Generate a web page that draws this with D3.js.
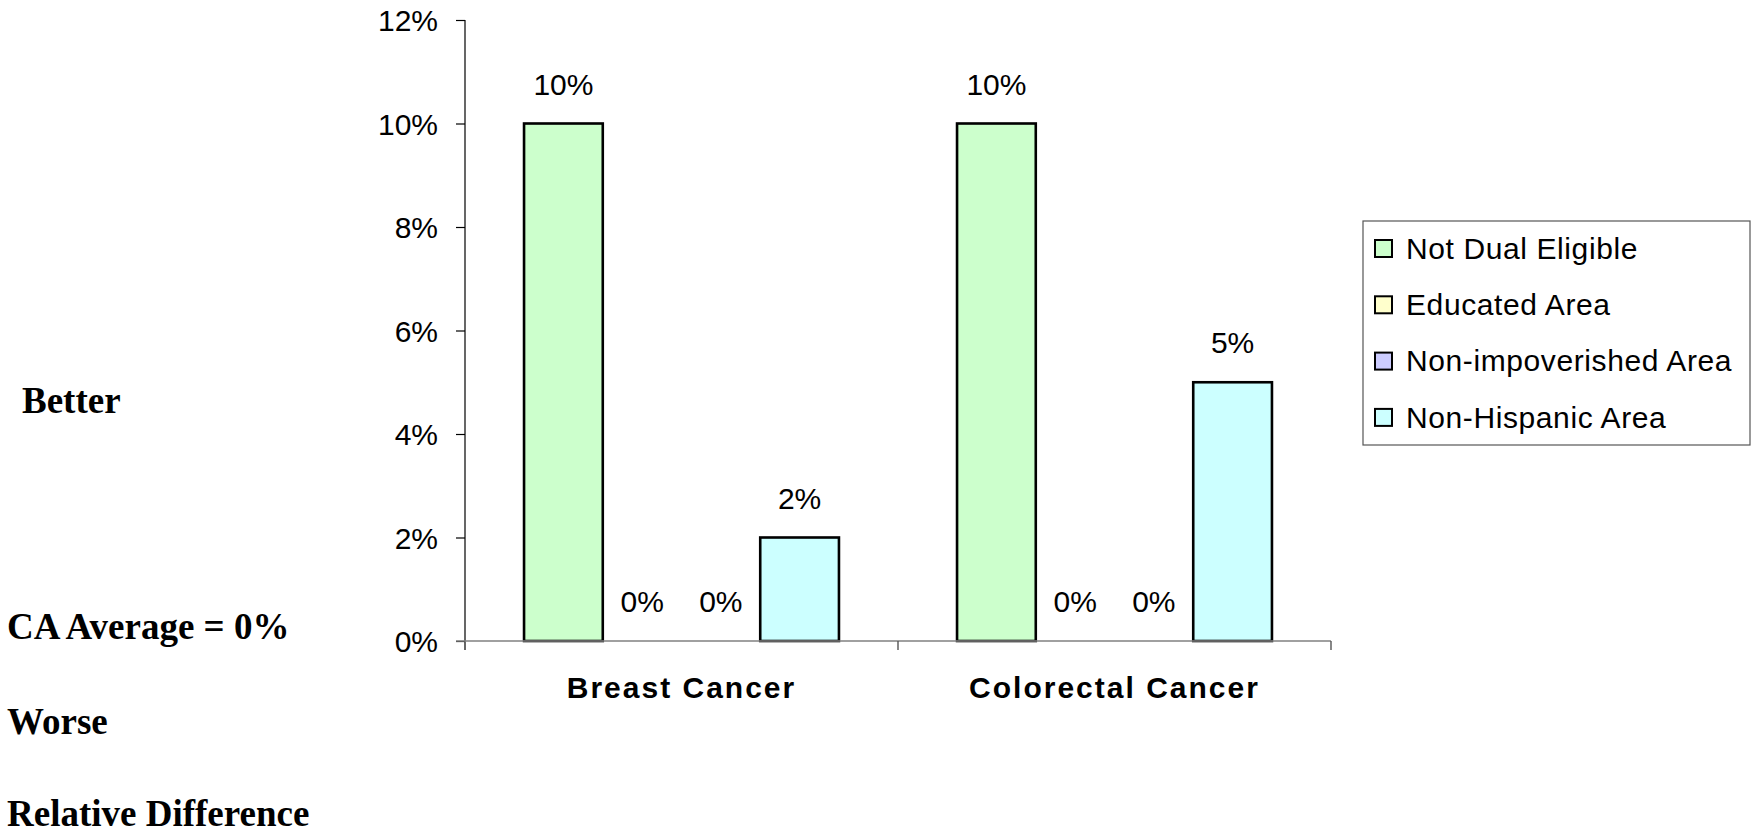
<!DOCTYPE html>
<html>
<head>
<meta charset="utf-8">
<script src="https://cdn.jsdelivr.net/npm/d3@7/dist/d3.min.js"></script>
<style>
  html, body { margin: 0; padding: 0; background: #fff; }
  svg { display: block; }
</style>
</head>
<body>
<svg id="chart" width="1752" height="833"></svg>
<script>
// Relative difference by screening type
const categories = ["Breast Cancer", "Colorectal Cancer"];
const seriesNames = ["Not Dual Eligible", "Educated Area", "Non-impoverished Area", "Non-Hispanic Area"];
const seriesColors = ["#CCFFCC", "#FFFFCC", "#CCCCFF", "#CCFFFF"];
const notDualEligible = [0.10, 0.10];
const educatedArea = [0.00, 0.00];
const nonImpoverishedArea = [0.00, 0.00];
const nonHispanicArea = [0.02, 0.05];
const yTicks = [0, 0.02, 0.04, 0.06, 0.08, 0.10, 0.12];
const sideLabels = ["Better", "CA Average = 0%", "Worse", "Relative Difference"];

const seriesValues = [notDualEligible, educatedArea, nonImpoverishedArea, nonHispanicArea];
const rows = categories.map((c, i) => ({
  category: c,
  bars: seriesNames.map((s, j) => ({ series: s, value: seriesValues[j][i], color: seriesColors[j] }))
}));

const svg = d3.select("#chart");
const plot = { left: 465, right: 1331, top: 20, bottom: 641 };

const x0 = d3.scaleBand().domain(categories).range([plot.left, plot.right]).padding(0);
const x1 = d3.scaleBand().domain(seriesNames).range([0, x0.bandwidth()])
  .paddingInner(0).paddingOuter(0.75);
const y = d3.scaleLinear().domain([0, 0.12]).range([plot.bottom, plot.top]);
const pct = d3.format(".0%");

// Y axis
const yAxis = svg.append("g")
  .attr("transform", `translate(${plot.left},0)`)
  .call(d3.axisLeft(y).tickValues(yTicks).tickFormat(pct).tickSize(9).tickPadding(18));
yAxis.select(".domain").attr("d", `M0,${plot.top}V${plot.bottom + 9}`).attr("stroke", "#000").attr("stroke-width", 1.2);
yAxis.selectAll(".tick line").attr("stroke", "#000").attr("stroke-width", 1.2);
yAxis.selectAll(".tick text")
  .attr("font-family", "'Liberation Sans', Arial, sans-serif")
  .attr("font-size", 30).attr("fill", "#000").attr("dy", "0.36em");

// Bars
const groups = svg.append("g").selectAll("g.group").data(rows).join("g")
  .attr("class", "group")
  .attr("transform", d => `translate(${x0(d.category)},0)`);

groups.selectAll("rect").data(d => d.bars).join("rect")
  .attr("x", d => x1(d.series))
  .attr("y", d => y(d.value))
  .attr("width", x1.bandwidth())
  .attr("height", d => y(0) - y(d.value))
  .attr("fill", d => d.color)
  .attr("stroke", d => d.value > 0 ? "#000" : "none")
  .attr("stroke-width", 2.6);

groups.selectAll("text.value").data(d => d.bars).join("text")
  .attr("class", "value")
  .attr("x", d => x1(d.series) + x1.bandwidth() / 2)
  .attr("y", d => y(d.value) - 29)
  .attr("text-anchor", "middle")
  .attr("font-family", "'Liberation Sans', Arial, sans-serif")
  .attr("font-size", 30)
  .attr("fill", "#000")
  .text(d => pct(d.value));

// X axis
const xAxis = svg.append("g")
  .attr("transform", `translate(0,${plot.bottom})`);
xAxis.append("line")
  .attr("x1", plot.left - 9).attr("x2", plot.right)
  .attr("y1", 0).attr("y2", 0)
  .attr("stroke", "#808080").attr("stroke-width", 1.6);
const boundaries = categories.map(c => x0(c)).concat([x0(categories[categories.length - 1]) + x0.bandwidth()]);
xAxis.selectAll("line.tick").data(boundaries.slice(1)).join("line")
  .attr("class", "tick")
  .attr("x1", d => d).attr("x2", d => d)
  .attr("y1", 0).attr("y2", 9)
  .attr("stroke", "#555").attr("stroke-width", 1.4);
xAxis.selectAll("text.cat").data(categories).join("text")
  .attr("class", "cat")
  .attr("x", d => x0(d) + x0.bandwidth() / 2)
  .attr("y", 57)
  .attr("text-anchor", "middle")
  .attr("font-family", "'Liberation Sans', Arial, sans-serif")
  .attr("font-size", 30)
  .attr("font-weight", "bold")
  .attr("letter-spacing", 2)
  .attr("fill", "#000")
  .text(d => d);

// Legend
const legend = svg.append("g").attr("transform", "translate(1363,221)");
legend.append("rect")
  .attr("x", 0).attr("y", 0).attr("width", 387).attr("height", 224)
  .attr("fill", "#fff").attr("stroke", "#555").attr("stroke-width", 1.2);
const items = legend.selectAll("g.item").data(seriesNames).join("g")
  .attr("class", "item")
  .attr("transform", (d, i) => `translate(0,${27 + i * 56.3})`);
items.append("rect")
  .attr("x", 12).attr("y", -8).attr("width", 17).attr("height", 17)
  .attr("fill", (d, i) => seriesColors[i])
  .attr("stroke", "#000").attr("stroke-width", 2);
items.append("text")
  .attr("x", 43).attr("y", 0).attr("dy", "0.36em")
  .attr("font-family", "'Liberation Sans', Arial, sans-serif")
  .attr("font-size", 30)
  .attr("letter-spacing", 0.6)
  .attr("fill", "#000")
  .text(d => d);

// Side annotations
const sidePos = [{ x: 22, y: 413 }, { x: 7, y: 639 }, { x: 7, y: 734 }, { x: 7, y: 826 }];
svg.append("g").selectAll("text").data(sideLabels).join("text")
  .attr("x", (d, i) => sidePos[i].x)
  .attr("y", (d, i) => sidePos[i].y)
  .attr("font-family", "'Liberation Serif', 'Times New Roman', serif")
  .attr("font-size", 37)
  .attr("font-weight", "bold")
  .attr("fill", "#000")
  .text(d => d);
</script>
</body>
</html>
